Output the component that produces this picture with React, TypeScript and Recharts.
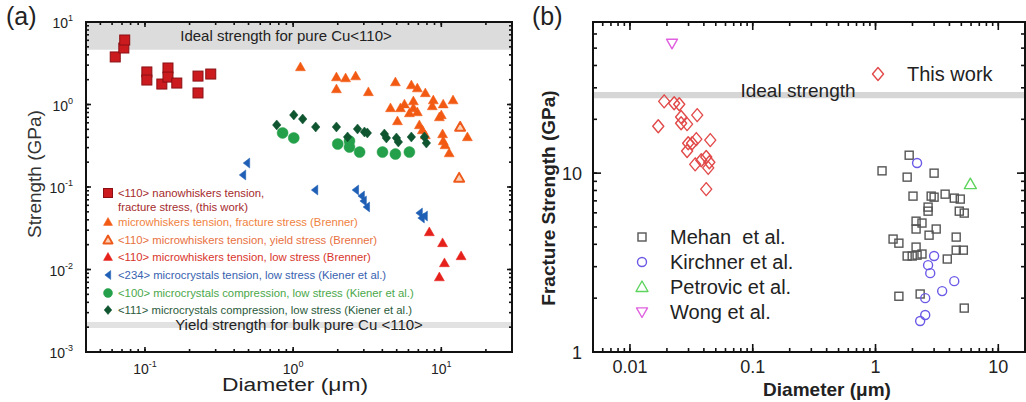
import React from "react";
import { ScatterChart, Scatter, XAxis, YAxis, ReferenceArea, Legend, Label } from "recharts";

const FONT = "Arial, 'Liberation Sans', Helvetica, sans-serif";

// ---------- panel (a): diameter (µm) vs strength (GPa)
const aNanoWhiskers = [
  { x: 0.063, y: 3.77 }, { x: 0.072, y: 4.84 }, { x: 0.073, y: 6.05 }, { x: 0.103, y: 2.48 },
  { x: 0.103, y: 1.98 }, { x: 0.13, y: 1.77 }, { x: 0.143, y: 2.77 }, { x: 0.143, y: 2.15 },
  { x: 0.164, y: 1.82 }, { x: 0.228, y: 2.21 }, { x: 0.228, y: 1.38 }, { x: 0.278, y: 2.34 },
];
const aBrennerFracture = [
  { x: 1.12, y: 2.85 }, { x: 1.96, y: 2.15 }, { x: 2.26, y: 2.09 }, { x: 2.64, y: 2.21 },
  { x: 1.96, y: 1.54 }, { x: 3.22, y: 1.42 }, { x: 4.9, y: 1.87 }, { x: 6.28, y: 1.72 },
  { x: 6.89, y: 1.58 }, { x: 7.8, y: 1.38 }, { x: 8.83, y: 1.13 }, { x: 10.3, y: 1.01 },
  { x: 12.0, y: 1.13 }, { x: 4.54, y: 0.908 }, { x: 5.3, y: 0.908 }, { x: 5.64, y: 1.01 },
  { x: 6.48, y: 1.1 }, { x: 6.48, y: 0.908 }, { x: 6.89, y: 0.811 }, { x: 6.09, y: 0.789 },
  { x: 5.06, y: 0.631 }, { x: 8.69, y: 0.959 }, { x: 10.0, y: 0.746 }, { x: 9.7, y: 0.705 },
  { x: 7.11, y: 0.565 }, { x: 7.45, y: 0.491 }, { x: 7.8, y: 0.427 }, { x: 10.2, y: 0.439 },
  { x: 10.3, y: 0.361 }, { x: 10.6, y: 0.323 }, { x: 11.3, y: 0.258 }, { x: 15.0, y: 0.404 },
];
const aBrennerYield = [{ x: 13.4, y: 0.534 }, { x: 13.2, y: 0.129 }];
const aBrennerFlow = [
  { x: 8.3, y: 0.0285 }, { x: 10.2, y: 0.021 }, { x: 10.5, y: 0.012 }, { x: 9.7, y: 0.0081 },
  { x: 13.6, y: 0.0146 },
];
const aKiener234 = [
  { x: 0.486, y: 0.195 }, { x: 0.457, y: 0.14 }, { x: 1.4, y: 0.092 }, { x: 2.64, y: 0.092 },
  { x: 2.89, y: 0.0778 }, { x: 2.98, y: 0.0676 }, { x: 3.13, y: 0.0573 }, { x: 7.11, y: 0.0484 },
  { x: 7.33, y: 0.0421 }, { x: 7.69, y: 0.0445 },
];
const aKiener100 = [
  { x: 0.849, y: 0.452 }, { x: 1.01, y: 0.393 }, { x: 2.0, y: 0.332 }, { x: 2.4, y: 0.305 },
  { x: 2.81, y: 0.265 }, { x: 4.01, y: 0.265 }, { x: 4.9, y: 0.251 }, { x: 6.09, y: 0.265 },
  { x: 2.4, y: 0.361 },
];
const aKiener111 = [
  { x: 0.775, y: 0.565 }, { x: 1.01, y: 0.746 }, { x: 1.16, y: 0.667 }, { x: 1.42, y: 0.534 },
  { x: 1.96, y: 0.534 }, { x: 2.33, y: 0.404 }, { x: 2.72, y: 0.505 }, { x: 3.03, y: 0.464 },
  { x: 3.17, y: 0.452 }, { x: 4.13, y: 0.439 }, { x: 4.98, y: 0.393 }, { x: 5.13, y: 0.351 },
  { x: 6.28, y: 0.404 }, { x: 7.69, y: 0.404 }, { x: 7.93, y: 0.341 }, { x: 4.26, y: 0.393 },
];
const aLegendLabels = [
  ["<110> nanowhiskers tension,", "fracture stress, (this work)"],
  ["microwhiskers tension, fracture stress (Brenner)"],
  ["<110> microwhiskers tension, yield stress (Brenner)"],
  ["<110> microwhiskers tension, low stress (Brenner)"],
  ["<234> microcrystals tension, low stress (Kiener et al.)"],
  ["<100> microcrystals compression, low stress (Kiener et al.)"],
  ["<111> microcrystals compression, low stress (Kiener et al.)"],
];
const aXTicks = [0.04, 0.05, 0.06, 0.07, 0.08, 0.09, 0.1, 0.2, 0.3, 0.4, 0.5, 0.6, 0.7, 0.8, 0.9,
  1, 2, 3, 4, 5, 6, 7, 8, 9, 10, 20, 30];
const aYTicks = [0.001, 0.002, 0.003, 0.004, 0.005, 0.006, 0.007, 0.008, 0.009,
  0.01, 0.02, 0.03, 0.04, 0.05, 0.06, 0.07, 0.08, 0.09,
  0.1, 0.2, 0.3, 0.4, 0.5, 0.6, 0.7, 0.8, 0.9, 1, 2, 3, 4, 5, 6, 7, 8, 9, 10];
const aIdealBand = [4.6, 10];
const aBulkBand = [0.00195, 0.00231];

// ---------- panel (b): diameter (µm) vs fracture strength (GPa)
const bThisWork = [
  { x: 0.019, y: 25.2 }, { x: 0.0229, y: 24.6 }, { x: 0.0252, y: 24.3 }, { x: 0.017, y: 18.3 },
  { x: 0.0261, y: 20.6 }, { x: 0.0261, y: 19.0 }, { x: 0.0292, y: 18.8 }, { x: 0.0353, y: 21.1 },
  { x: 0.0298, y: 14.7 }, { x: 0.0321, y: 14.7 }, { x: 0.0347, y: 15.5 }, { x: 0.0292, y: 13.3 },
  { x: 0.0451, y: 15.3 }, { x: 0.034, y: 11.2 }, { x: 0.0381, y: 11.8 }, { x: 0.0418, y: 12.3 },
  { x: 0.0443, y: 11.5 }, { x: 0.0434, y: 10.7 }, { x: 0.0418, y: 8.14 },
];
const bMehan = [
  { x: 1.88, y: 12.6 }, { x: 1.13, y: 10.3 }, { x: 1.81, y: 9.5 }, { x: 3.0, y: 10.0 },
  { x: 2.02, y: 7.44 }, { x: 2.84, y: 7.44 }, { x: 3.0, y: 7.34 }, { x: 3.69, y: 7.63 },
  { x: 4.38, y: 7.25 }, { x: 4.9, y: 7.16 }, { x: 2.68, y: 6.46 }, { x: 2.68, y: 6.13 },
  { x: 4.81, y: 6.13 }, { x: 5.28, y: 5.98 }, { x: 2.14, y: 5.39 }, { x: 2.39, y: 5.26 },
  { x: 2.14, y: 4.87 }, { x: 3.12, y: 4.87 }, { x: 2.73, y: 4.5 }, { x: 1.39, y: 4.28 },
  { x: 1.55, y: 4.06 }, { x: 4.54, y: 4.39 }, { x: 2.14, y: 3.86 }, { x: 1.81, y: 3.44 },
  { x: 1.99, y: 3.44 }, { x: 2.18, y: 3.48 }, { x: 2.39, y: 3.53 }, { x: 4.54, y: 3.71 },
  { x: 5.19, y: 3.71 }, { x: 3.84, y: 3.31 }, { x: 1.55, y: 2.05 }, { x: 2.31, y: 2.11 },
  { x: 5.28, y: 1.76 },
];
const bKirchner = [
  { x: 2.18, y: 11.4 }, { x: 3.0, y: 3.44 }, { x: 2.68, y: 3.06 }, { x: 2.79, y: 2.76 },
  { x: 4.38, y: 2.49 }, { x: 3.49, y: 2.19 }, { x: 2.54, y: 2.0 }, { x: 2.54, y: 1.61 },
  { x: 2.31, y: 1.49 },
];
const bPetrovic = [{ x: 5.92, y: 8.68 }];
const bWong = [{ x: 0.022, y: 53.2 }];
const bLegendLabels = ["Mehan\u00a0 et al.", "Kirchner et al.", "Petrovic et al.", "Wong et al."];
const bXTicks = [0.005, 0.006, 0.007, 0.008, 0.009, 0.01, 0.02, 0.03, 0.04, 0.05, 0.06, 0.07, 0.08, 0.09,
  0.1, 0.2, 0.3, 0.4, 0.5, 0.6, 0.7, 0.8, 0.9, 1, 2, 3, 4, 5, 6, 7, 8, 9, 10];
const bXLabels = [0.01, 0.1, 1, 10];
const bYTicks = [1, 2, 3, 4, 5, 6, 7, 8, 9, 10, 20, 30, 40, 50, 60, 70];
const bYLabels = [1, 10];
const bIdealBand = [26.2, 28.4];

// ---------- markers
type Kind = "square" | "tri" | "triDown" | "triLeft" | "circle" | "diamond";

function marker(kind: Kind, cx: number, cy: number, s: number, fill: string, stroke: string, sw: number) {
  const h = s / 2;
  const common = { fill, stroke, strokeWidth: sw };
  if (kind === "square") return <rect x={cx - h} y={cy - h} width={s} height={s} {...common} />;
  if (kind === "circle") return <circle cx={cx} cy={cy} r={h} {...common} />;
  let pts = "";
  if (kind === "tri") pts = `${cx},${cy - h} ${cx + h},${cy + h * 0.75} ${cx - h},${cy + h * 0.75}`;
  if (kind === "triDown") pts = `${cx},${cy + h} ${cx + h},${cy - h * 0.75} ${cx - h},${cy - h * 0.75}`;
  if (kind === "triLeft") pts = `${cx - h * 0.7},${cy} ${cx + h * 0.6},${cy - h} ${cx + h * 0.6},${cy + h}`;
  if (kind === "diamond") pts = `${cx},${cy - h} ${cx + h * 0.85},${cy} ${cx},${cy + h} ${cx - h * 0.85},${cy}`;
  return <polygon points={pts} {...common} strokeLinejoin="round" />;
}

const shapeOf = (kind: Kind, s: number, fill: string, stroke: string, sw: number) => (p: any) =>
  marker(kind, p.cx, p.cy, s, fill, stroke, sw);
const noShape = () => <g />;

const A_SERIES = [
  { name: "nano", data: aNanoWhiskers, kind: "square" as Kind, s: 10, fill: "#cc1b1f", stroke: "#8a1014", sw: 1, text: "#a52a2c" },
  { name: "fracture", data: aBrennerFracture, kind: "tri" as Kind, s: 10, fill: "#f25a14", stroke: "#f25a14", sw: 0.5, text: "#f0823e" },
  { name: "yield", data: aBrennerYield, kind: "tri" as Kind, s: 10, fill: "#fbd2b8", stroke: "#ee5a1c", sw: 2, text: "#e8703e" },
  { name: "flow", data: aBrennerFlow, kind: "tri" as Kind, s: 10, fill: "#e6201a", stroke: "#e6201a", sw: 0.5, text: "#d8352b" },
  { name: "k234", data: aKiener234, kind: "triLeft" as Kind, s: 10, fill: "#1f5fb5", stroke: "#1f5fb5", sw: 0.5, text: "#3762b0" },
  { name: "k100", data: aKiener100, kind: "circle" as Kind, s: 11, fill: "#25a04a", stroke: "#25a04a", sw: 0.5, text: "#4aa84a" },
  { name: "k111", data: aKiener111, kind: "diamond" as Kind, s: 10, fill: "#0f5530", stroke: "#0f5530", sw: 0.5, text: "#2a5a3a" },
];

const B_SERIES = [
  { name: "This work", data: bThisWork, kind: "diamond" as Kind, s: 13, stroke: "#e24a4a" },
  { name: "Mehan", data: bMehan, kind: "square" as Kind, s: 8, stroke: "#555555" },
  { name: "Kirchner", data: bKirchner, kind: "circle" as Kind, s: 9, stroke: "#6a5ae6" },
  { name: "Petrovic", data: bPetrovic, kind: "tri" as Kind, s: 12, stroke: "#5ed45e" },
  { name: "Wong", data: bWong, kind: "triDown" as Kind, s: 11, stroke: "#e060e0" },
];

// ---------- axes: recharts draws the short (minor) tick inward via a negative tickSize,
// the custom tick adds the longer major tick and the label
const isDecade = (v: number) => Math.abs(Math.log10(v) - Math.round(Math.log10(v))) < 1e-6;
const expo = (v: number) => String(Math.round(Math.log10(v)));

type Side = "bottom" | "left" | "top" | "right";
const makeTick = (side: Side, major: number, label?: (v: number, x: number, y: number) => any) =>
  (p: any) => {
    const x = Number(p.x), y = Number(p.y);
    const v = p.payload.value;
    const big = isDecade(v);
    let x2 = x, y2 = y;
    if (side === "bottom") y2 = y - major;
    if (side === "top") y2 = y + major;
    if (side === "left") x2 = x + major;
    if (side === "right") x2 = x - major;
    return (
      <g>
        {big ? <path d={`M${x},${y}L${x2},${y2}`} stroke="#111" strokeWidth={1.6} fill="none" /> : null}
        {label ? label(v, x, y) : null}
      </g>
    );
  };

const aXLabel = (v: number, x: number, y: number) =>
  isDecade(v) && v > 0.05 && v < 20 ? (
    <text x={x} y={y + 22} textAnchor="middle" fontSize={14} fill="#222" fontFamily={FONT}>
      10<tspan dy={-7} fontSize={9}>{expo(v)}</tspan>
    </text>
  ) : null;
const aYLabel = (v: number, x: number, y: number) =>
  isDecade(v) ? (
    <text x={x - 13} y={y + 6} textAnchor="end" fontSize={14} fill="#222" fontFamily={FONT}>
      10<tspan dy={-7} fontSize={9}>{expo(v)}</tspan>
    </text>
  ) : null;
const bXLabel = (v: number, x: number, y: number) =>
  bXLabels.includes(v) ? (
    <text x={x} y={y + 21} textAnchor="middle" fontSize={18} fill="#222" fontFamily={FONT}>{String(v)}</text>
  ) : null;
const bYLabel = (v: number, x: number, y: number) =>
  bYLabels.includes(v) ? (
    <text x={x - 11} y={y + 7} textAnchor="end" fontSize={18} fill="#222" fontFamily={FONT}>{String(v)}</text>
  ) : null;

const axisLine = { stroke: "#111", strokeWidth: 2 };
const tickLine = { stroke: "#111", strokeWidth: 1.6 };

// plot boxes (follow from the chart margins and axis sizes below)
const A_BOX = { x: 86, y: 22, w: 426, h: 330 };
const B_BOX = { x: 73, y: 22, w: 432, h: 330 };

// ---------- legends (overlay, also closes the plot frame)
const A_ROWS = [193, 222, 240, 257, 275, 293, 310];
function ALegend() {
  return (
    <svg width={520} height={402} style={{ position: "absolute", left: 0, top: 0 }}>
      <rect x={A_BOX.x} y={A_BOX.y} width={A_BOX.w} height={A_BOX.h} fill="none" stroke="#111" strokeWidth={2} />
      {A_SERIES.map((s, i) => (
        <g key={s.name}>
          {marker(s.kind, 108, A_ROWS[i], 9, s.fill, s.stroke, s.sw)}
          {aLegendLabels[i].map((t, j) => (
            <text key={j} x={118} y={A_ROWS[i] + 4 + j * 14} fontSize={11.3} fill={s.text} fontFamily={FONT}>{t}</text>
          ))}
        </g>
      ))}
    </svg>
  );
}

function BLegend() {
  const rows = [237, 262, 287, 312];
  return (
    <svg width={506} height={402} style={{ position: "absolute", left: 0, top: 0 }}>
      <rect x={B_BOX.x} y={B_BOX.y} width={B_BOX.w} height={B_BOX.h} fill="none" stroke="#111" strokeWidth={2} />
      {marker("diamond", 358, 74, 13, "none", B_SERIES[0].stroke, 1.4)}
      <text x={387} y={81} fontSize={20} fill="#222" fontFamily={FONT}>{B_SERIES[0].name}</text>
      {B_SERIES.slice(1).map((s, i) => (
        <g key={s.name}>
          {marker(s.kind, 122, rows[i], s.s, "none", s.stroke, 1.4)}
          <text x={150} y={rows[i] + 7} fontSize={20} fill="#222" fontFamily={FONT}>{bLegendLabels[i]}</text>
        </g>
      ))}
    </svg>
  );
}

function PanelA() {
  return (
    <ScatterChart width={520} height={402} margin={{ top: 1, right: 0, bottom: 20, left: 30 }}>
      <XAxis dataKey="x" type="number" scale="log" domain={[0.04, 30]} ticks={aXTicks} allowDataOverflow
        interval={0} tickSize={-3} tickMargin={3} height={30} axisLine={axisLine} tickLine={tickLine}
        tick={makeTick("bottom", 5, aXLabel)}>
        <Label content={() => (
          <text x={295} y={391} textAnchor="middle" fontSize={18} textLength={146} lengthAdjust="spacingAndGlyphs"
            fill="#222" fontFamily={FONT}>Diameter (μm)</text>
        )} />
      </XAxis>
      <XAxis xAxisId="top" dataKey="x" orientation="top" type="number" scale="log" domain={[0.04, 30]} ticks={aXTicks}
        allowDataOverflow interval={0} tickSize={-3} tickMargin={3} height={21} axisLine={axisLine}
        tickLine={tickLine} tick={makeTick("top", 5)} />
      <YAxis dataKey="y" type="number" scale="log" domain={[0.001, 10]} ticks={aYTicks} allowDataOverflow
        interval={0} tickSize={-3} tickMargin={3} width={56} axisLine={axisLine} tickLine={tickLine}
        tick={makeTick("left", 5, aYLabel)}>
        <Label content={() => (
          <text x={41} y={174} transform="rotate(-90 41 174)" textAnchor="middle" fontSize={19} fill="#333" fontFamily={FONT}>Strength (GPa)</text>
        )} />
      </YAxis>
      <YAxis yAxisId="right" dataKey="y" orientation="right" type="number" scale="log" domain={[0.001, 10]} ticks={aYTicks}
        allowDataOverflow interval={0} tickSize={-3} tickMargin={3} width={8} axisLine={axisLine}
        tickLine={tickLine} tick={makeTick("right", 5)} />
      <ReferenceArea y1={aIdealBand[0]} y2={aIdealBand[1]} fill="#dcdcdc" fillOpacity={1} stroke="none"
        label={(p: any) => (
          <text x={p.viewBox.x + p.viewBox.width / 2 - 13} y={p.viewBox.y + p.viewBox.height / 2 + 5}
            textAnchor="middle" fontSize={15} fill="#222" fontFamily={FONT}>Ideal strength for pure Cu&lt;110&gt;</text>
        )} />
      <ReferenceArea y1={aBulkBand[0]} y2={aBulkBand[1]} fill="#e2e2e2" fillOpacity={1} stroke="none"
        label={(p: any) => (
          <text x={p.viewBox.x + p.viewBox.width / 2} y={p.viewBox.y + p.viewBox.height / 2 + 5}
            textAnchor="middle" fontSize={15} fill="#222" fontFamily={FONT}>Yield strength for bulk pure Cu &lt;110&gt;</text>
        )} />
      {A_SERIES.map((s) => (
        <Scatter key={s.name} name={s.name} data={s.data} isAnimationActive={false}
          shape={shapeOf(s.kind, s.s, s.fill, s.stroke, s.sw)} />
      ))}
      {/* invisible series that binds the mirrored frame axes */}
      <Scatter xAxisId="top" yAxisId="right" data={aNanoWhiskers} isAnimationActive={false} shape={noShape} legendType="none" />
      <Legend layout="vertical" align="center" verticalAlign="middle"
        wrapperStyle={{ left: 0, top: 0, width: 520, height: 402, pointerEvents: "none" }}
        content={() => <ALegend />} />
    </ScatterChart>
  );
}

function PanelB() {
  return (
    <ScatterChart width={526} height={402} margin={{ top: 1, right: 0, bottom: 20, left: 33 }}>
      <XAxis dataKey="x" type="number" scale="log" domain={[0.005, 16.5]} ticks={bXTicks} allowDataOverflow
        interval={0} tickSize={-4} tickMargin={4} height={30} axisLine={axisLine} tickLine={tickLine}
        tick={makeTick("bottom", 8, bXLabel)}>
        <Label content={() => (
          <text x={307} y={396} textAnchor="middle" fontSize={19} fontWeight="bold" fill="#222" fontFamily={FONT}>Diameter (μm)</text>
        )} />
      </XAxis>
      <XAxis xAxisId="top" dataKey="x" orientation="top" type="number" scale="log" domain={[0.005, 16.5]} ticks={bXTicks}
        allowDataOverflow interval={0} tickSize={-4} tickMargin={4} height={21} axisLine={axisLine}
        tickLine={tickLine} tick={makeTick("top", 8)} />
      <YAxis dataKey="y" type="number" scale="log" domain={[1, 70]} ticks={bYTicks} allowDataOverflow
        interval={0} tickSize={-4} tickMargin={4} width={40} axisLine={axisLine} tickLine={tickLine}
        tick={makeTick("left", 8, bYLabel)}>
        <Label content={() => (
          <text x={35} y={198} transform="rotate(-90 35 198)" textAnchor="middle" fontSize={19} fontWeight="bold" fill="#222" fontFamily={FONT}>Fracture Strength (GPa)</text>
        )} />
      </YAxis>
      <YAxis yAxisId="right" dataKey="y" orientation="right" type="number" scale="log" domain={[1, 70]} ticks={bYTicks}
        allowDataOverflow interval={0} tickSize={-4} tickMargin={4} width={21} axisLine={axisLine}
        tickLine={tickLine} tick={makeTick("right", 8)} />
      <ReferenceArea y1={bIdealBand[0]} y2={bIdealBand[1]} fill="#d6d6d6" fillOpacity={1} stroke="none"
        label={(p: any) => (
          <text x={p.viewBox.x + p.viewBox.width / 2 - 11} y={p.viewBox.y + p.viewBox.height - 1}
            textAnchor="middle" fontSize={19} fill="#222" fontFamily={FONT}>Ideal strength</text>
        )} />
      {B_SERIES.map((s) => (
        <Scatter key={s.name} name={s.name} data={s.data} isAnimationActive={false}
          shape={shapeOf(s.kind, s.s, "none", s.stroke, 1.4)} />
      ))}
      <Scatter xAxisId="top" yAxisId="right" data={bWong} isAnimationActive={false} shape={noShape} legendType="none" />
      <Legend layout="vertical" align="center" verticalAlign="middle"
        wrapperStyle={{ left: 0, top: 0, width: 506, height: 402, pointerEvents: "none" }}
        content={() => <BLegend />} />
    </ScatterChart>
  );
}

export default function App() {
  return (
    <div style={{ position: "absolute", left: 0, top: 0, width: 1026, height: 402, background: "#fff", overflow: "hidden", fontFamily: FONT }}>
      <div style={{ position: "absolute", left: 0, top: 0 }}><PanelA /></div>
      <div style={{ position: "absolute", left: 520, top: 0 }}><PanelB /></div>
      <div style={{ position: "absolute", left: 6, top: 2, fontSize: 25, color: "#222" }}>(a)</div>
      <div style={{ position: "absolute", left: 532, top: 2, fontSize: 25, color: "#222" }}>(b)</div>
    </div>
  );
}
